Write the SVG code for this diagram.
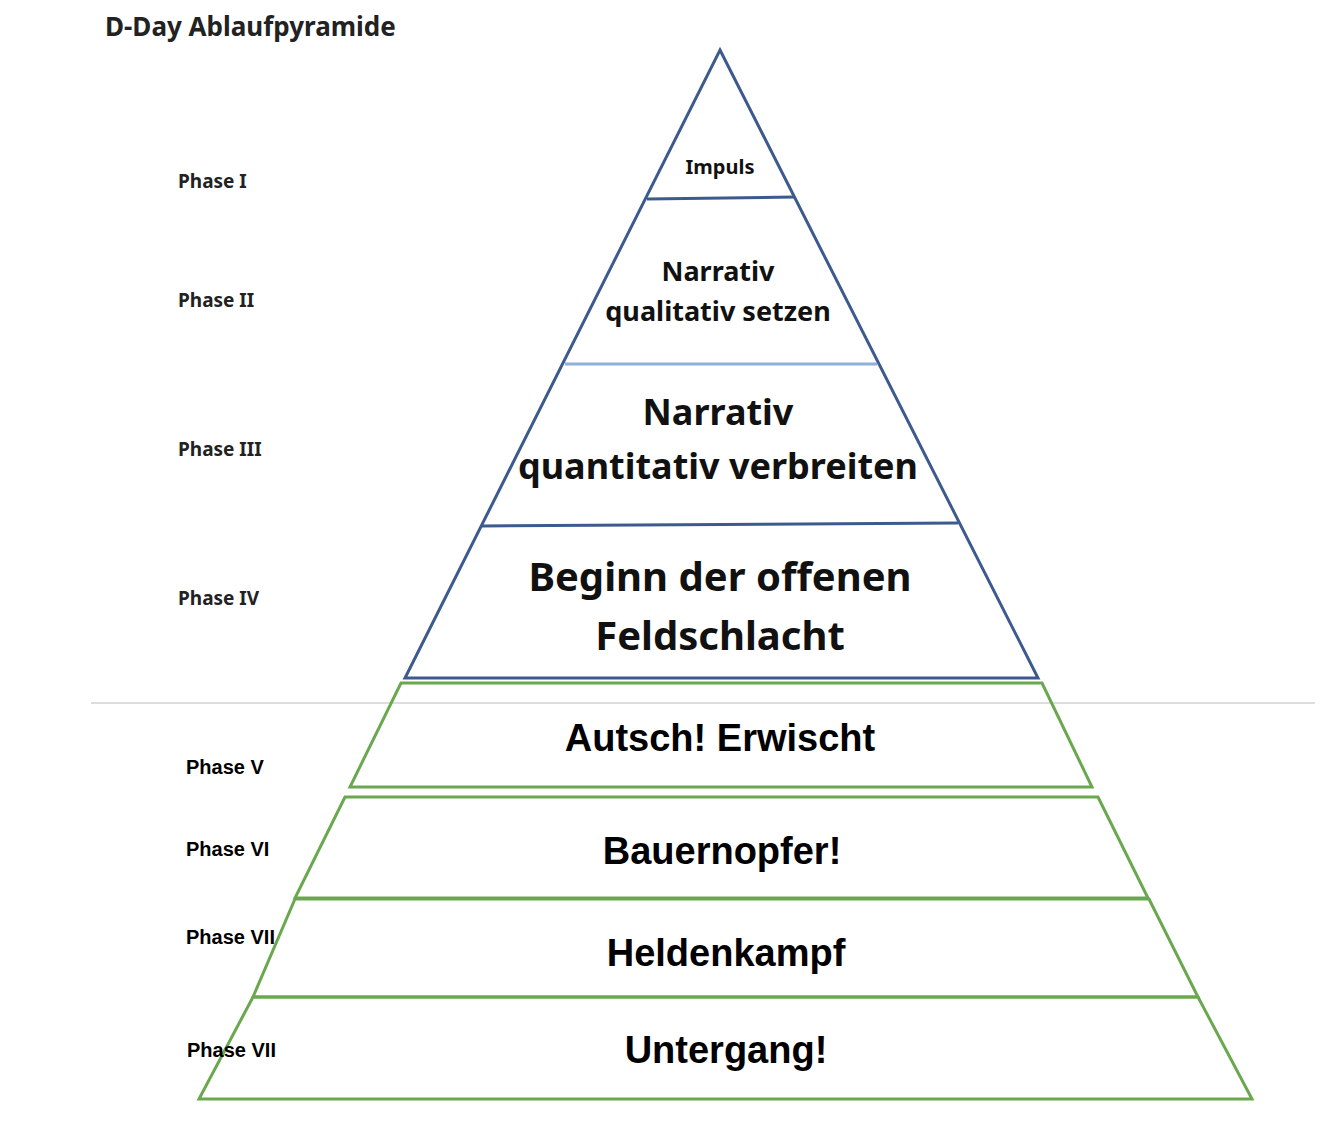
<svg xmlns="http://www.w3.org/2000/svg" width="1344" height="1142" viewBox="0 0 1344 1142">
<style>
.b{fill:none;stroke:#3d5a8f;stroke-width:3}
.g{fill:none;stroke:#6aa84f;stroke-width:3}
.t{font-family:"Noto Sans",sans-serif;font-weight:bold;fill:#111;text-anchor:middle}
.a{font-family:"Liberation Sans",Arial,sans-serif;font-weight:bold;fill:#000;text-anchor:middle}
.p{font-family:"Noto Sans",sans-serif;font-weight:bold;fill:#222;font-size:19px}
.q{font-family:"Liberation Sans",Arial,sans-serif;font-weight:bold;fill:#000;font-size:20px}
</style>
<rect width="1344" height="1142" fill="#fff"/>
<text x="105" y="36" font-family="Noto Sans,sans-serif" font-weight="bold" font-size="26" fill="#222">D-Day Ablaufpyramide</text>
<line x1="91" y1="703" x2="1315" y2="703" stroke="#bbb" stroke-width="1"/>
<g id="pyramid-top">
<polygon class="b" points="720,50 1038,678 405,678"/>
<line class="b" x1="647" y1="199" x2="795" y2="197"/>
<line x1="565" y1="364" x2="877" y2="364" stroke="#8fb0d8" stroke-width="3"/>
<line class="b" x1="482" y1="526" x2="958" y2="523"/>
</g>
<g id="n1"><text class="t" x="720" y="174" font-size="20">Impuls</text></g>
<g id="n2"><text class="t" x="718" y="281" font-size="27">Narrativ</text><text class="t" x="718" y="321" font-size="27">qualitativ setzen</text></g>
<g id="n3"><text class="t" x="718" y="425" font-size="36">Narrativ</text><text class="t" x="718" y="479" font-size="36">quantitativ verbreiten</text></g>
<g id="n4"><text class="t" x="720" y="591" font-size="40">Beginn der offenen</text><text class="t" x="720" y="650" font-size="40">Feldschlacht</text></g>
<g id="n5"><polygon class="g" points="401,683 1042,683 1092,787 350,787"/><text class="a" x="720" y="751" font-size="38">Autsch! Erwischt</text></g>
<g id="n6"><polygon class="g" points="345,797 1098,797 1148,898 295,898"/><text class="a" x="722" y="864" font-size="38">Bauernopfer!</text></g>
<g id="n7"><polygon class="g" points="295,899 1149,899 1198,997 253,997"/><text class="a" x="726" y="966" font-size="38">Heldenkampf</text></g>
<g id="n8"><polygon class="g" points="253,997 1198,997 1252,1099 199,1099"/><text class="a" x="726" y="1063" font-size="38">Untergang!</text></g>
<g id="labels">
<text class="p" x="178" y="188">Phase I</text>
<text class="p" x="178" y="307">Phase II</text>
<text class="p" x="178" y="456">Phase III</text>
<text class="p" x="178" y="605">Phase IV</text>
<text class="q" x="186" y="774">Phase V</text>
<text class="q" x="186" y="856">Phase VI</text>
<text class="q" x="186" y="944">Phase VII</text>
<text class="q" x="187" y="1057">Phase VII</text>
</g>
<g id="connectors"/>
</svg>
